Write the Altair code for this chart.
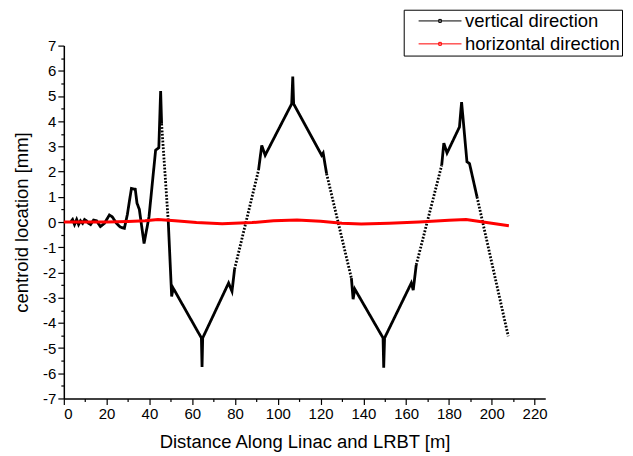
import altair as alt
import pandas as pd

# ---- data ----
vert_x = [3.2, 4.1, 5.0, 6.0, 6.9, 7.8, 8.8, 9.7, 10.6, 11.5, 12.5, 13.9, 15.3, 17.1, 19.0,
          21.3, 22.7, 24.6, 26.4, 28.3, 29.7, 30.6, 31.6, 33.4, 34.2, 35.3, 37.5, 39.8,
          42.9, 44.4, 45.25, 45.7, 48.8, 50.4, 51.1, 64.3, 64.6, 64.9, 77.0, 78.6, 79.8,
          91.0, 92.5, 94.1, 106.5, 107.0, 107.4, 120.5, 121.2, 122.8,
          134.4, 135.2, 136.0, 149.2, 149.5, 149.9, 162.4, 163.3, 164.7,
          176.6, 177.6, 179.1, 184.9, 185.9, 188.4, 189.6, 193.1, 207.7]
vert_y = [0.0, 0.1, -0.1, 0.1, -0.1, 0.05, -0.05, 0.1, 0.05, -0.05, -0.1, 0.08, 0.05, -0.18, -0.05,
          0.28, 0.2, -0.05, -0.2, -0.25, 0.3, 0.8, 1.33, 1.3, 0.75, 0.5, -0.85, 0.2,
          2.85, 2.95, 5.2, 3.9, 0.05, -2.95, -2.62, -4.6, -5.75, -4.6, -2.42, -2.75, -1.87,
          2.06, 3.04, 2.65, 4.69, 5.77, 4.69, 2.65, 2.74, 1.92,
          -2.23, -3.06, -2.66, -4.6, -5.78, -4.6, -2.42, -2.7, -1.7,
          2.25, 3.13, 2.74, 3.77, 4.76, 2.39, 2.32, 1.0, -4.53]
# index i means the piece from point i to point i+1 is drawn dotted
vert_dotted_after = [31, 40, 49, 58, 66]

horiz_x = [0, 10, 20, 30, 38, 44, 52, 62, 74, 88, 98, 109, 120, 130, 139, 152, 166, 180, 188, 208]
horiz_y = [0.0, 0.0, 0.0, 0.02, 0.05, 0.1, 0.05, -0.02, -0.07, -0.02, 0.05, 0.08, 0.03, -0.05,
           -0.08, -0.05, 0.0, 0.07, 0.1, -0.15]

series_names = ["vertical direction", "horizontal direction"]
series_colors = ["black", "#ff0000"]
x_tick_values = list(range(0, 221, 10))
y_tick_values = [v / 2 for v in range(-14, 15)]

# ---- build tables ----
rows = []
seg = 0
prev = None
for i in range(len(vert_x) - 1):
    style = "dotted" if i in vert_dotted_after else "solid"
    if style != prev:
        seg += 1
        rows.append(dict(x=vert_x[i], y=vert_y[i], seg=seg, style=style, series=series_names[0]))
        prev = style
    rows.append(dict(x=vert_x[i + 1], y=vert_y[i + 1], seg=seg, style=style, series=series_names[0]))
vert = pd.DataFrame(rows)
horiz = pd.DataFrame(dict(x=horiz_x, y=horiz_y, series=series_names[1]))

FONT = "Liberation Sans"

xenc = alt.X("x:Q", scale=alt.Scale(domain=[0, 225], nice=False),
             axis=alt.Axis(values=x_tick_values, title="Distance Along Linac and LRBT [m]",
                           labelExpr="datum.value % 20 === 0 ? '' + datum.value : ''",
                           tickSize={"condition": {"test": "datum.value % 20 !== 0", "value": 3}, "value": 6},
                           labelOverlap=False, grid=False, labelPadding=2, titlePadding=11))
yenc = alt.Y("y:Q", scale=alt.Scale(domain=[-7, 7], nice=False),
             axis=alt.Axis(values=y_tick_values, title="centroid location [mm]",
                           labelExpr="datum.value % 1 === 0 ? '' + datum.value : ''",
                           tickSize={"condition": {"test": "datum.value % 1 !== 0", "value": 3}, "value": 6},
                           labelOverlap=False, grid=False, labelPadding=2, titlePadding=11))
cenc = alt.Color("series:N", scale=alt.Scale(domain=series_names, range=series_colors),
                 legend=alt.Legend(orient="none", legendX=341, legendY=-36, title=None,
                                   symbolType="M0.86,0H10.86M5.56,-0.35H6.16V0.35H5.56Z", symbolSize=74,
                                   symbolStrokeWidth=1, labelFontSize=18.5, labelFont=FONT,
                                   labelColor="black", labelOffset=41, padding=2, rowPadding=4,
                                   labelLimit=300,
                                   strokeColor="black", fillColor="white"))

black = alt.Chart(vert).mark_line(strokeWidth=2.8, strokeCap="butt").encode(
    x=xenc, y=yenc, color=cenc, detail="seg:N",
    strokeDash=alt.StrokeDash("style:N", scale=alt.Scale(domain=["solid", "dotted"],
                                                          range=[[1, 0], [1.8, 1.6]]), legend=None),
)
red = alt.Chart(horiz).mark_line(strokeWidth=3).encode(x=xenc, y=yenc, color=cenc)

chart = alt.layer(black, red).properties(
    width=483, height=354,
    autosize=alt.AutoSizeParams(type="none"),
    padding={"left": 56, "top": 37, "right": 80, "bottom": 57},
).configure_view(stroke=None).configure_axis(
    labelFont=FONT, titleFont=FONT, labelFontSize=15, titleFontSize=18.5, titleFontWeight="normal",
    labelColor="black", titleColor="black", domainColor="black", tickColor="black",
    domainWidth=1.5, tickWidth=1.2,
)

chart.save("out.html", embed_options={"renderer": "svg", "actions": False})
